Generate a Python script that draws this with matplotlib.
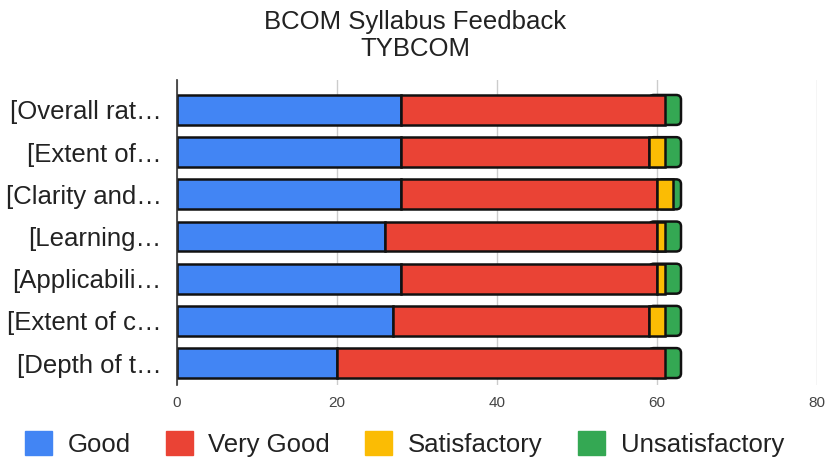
"""Stacked horizontal bar chart of BCOM syllabus feedback."""
import numpy as np
import matplotlib
matplotlib.use('Agg')
import matplotlib.pyplot as plt
from matplotlib.patches import Patch, FancyBboxPatch

plt.rcParams['font.family'] = ['Liberation Sans', 'DejaVu Sans']

questions = ['[Overall rat\u2026', '[Extent of\u2026', '[Clarity and\u2026',
             '[Learning\u2026', '[Applicabili\u2026', '[Extent of c\u2026',
             '[Depth of t\u2026']
good = [28, 28, 28, 26, 28, 27, 20]
very_good = [33, 31, 32, 34, 32, 32, 41]
satisfactory = [0, 2, 2, 1, 1, 2, 0]
unsatisfactory = [2, 2, 1, 2, 2, 2, 2]

series = [('Good', good, '#4285f4'),
          ('Very Good', very_good, '#ea4335'),
          ('Satisfactory', satisfactory, '#fbbc04'),
          ('Unsatisfactory', unsatisfactory, '#34a853')]

fig = plt.figure(figsize=(8.3, 4.63), dpi=100)
ax = fig.add_axes([177 / 830, 1 - 385 / 463, 640 / 830, 305 / 463])

ax.set_xlim(0, 80)
ax.set_ylim(6.52, -0.71)
bar_h = 0.71
# pixels per x unit over pixels per y unit, keeps the rounded corners circular
aspect = (640 / 80) / (305 / 7.23)

y = np.arange(len(questions))
data = np.array([s[1] for s in series], dtype=float)
# index of the last non-empty segment in each bar (gets the rounded end)
last = [max(k for k in range(len(series)) if data[k, i] > 0)
        for i in range(len(questions))]

left = np.zeros(len(questions))
for k, (name, vals, color) in enumerate(series):
    row = data[k]
    for i in range(len(questions)):
        if row[i] <= 0:
            continue
        if k == last[i]:
            # rounded right end, tucked under the previous segment
            x0 = left[i] - 2
            patch = FancyBboxPatch((x0, y[i] - bar_h / 2), left[i] + row[i] - x0,
                                   bar_h, boxstyle='round,pad=0,rounding_size=0.6',
                                   mutation_aspect=aspect, facecolor=color,
                                   edgecolor='#111111', linewidth=1.8, zorder=2)
            ax.add_patch(patch)
        else:
            ax.barh(y[i], row[i], left=left[i], height=bar_h, color=color,
                    edgecolor='#111111', linewidth=1.8, zorder=3)
    left += row

ax.set_xticks([0, 20, 40, 60, 80])
ax.set_yticks(y)
ax.set_yticklabels(questions, fontsize=18.5, color='#222222')
ax.tick_params(axis='y', length=0, pad=11)
ax.tick_params(axis='x', length=0, pad=8, labelsize=11, labelcolor='#444444')
ax.grid(axis='x', color='#cccccc', linewidth=1, zorder=0)
for side in ['top', 'right', 'bottom']:
    ax.spines[side].set_visible(False)
ax.spines['left'].set_color('#333333')
ax.spines['left'].set_linewidth(1.2)
ax.spines['left'].set_zorder(4)

fig.text(0.5, 1 - 22 / 463, 'BCOM Syllabus Feedback', ha='center', va='center',
         fontsize=18.5, color='#222222')
fig.text(0.5, 1 - 49 / 463, 'TYBCOM', ha='center', va='center',
         fontsize=18.5, color='#222222')

handles = [Patch(facecolor=c, edgecolor=c, label=n) for n, _, c in series]
fig.legend(handles=handles, loc='center', bbox_to_anchor=(0.487, 1 - 444 / 463),
           ncol=4, frameon=False, fontsize=18.5, handlelength=1.05,
           handleheight=1.05, handletextpad=0.62, columnspacing=1.36,
           labelcolor='#222222', borderpad=0, borderaxespad=0)

fig.savefig('out.png', dpi=100)
plt.close(fig)
